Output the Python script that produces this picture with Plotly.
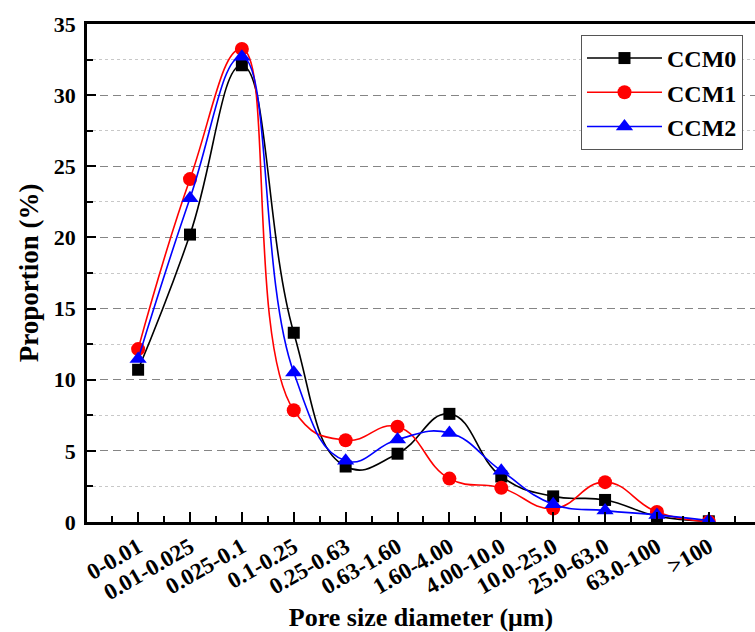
import plotly.graph_objects as go

categories = ["0-0.01", "0.01-0.025", "0.025-0.1", "0.1-0.25", "0.25-0.63", "0.63-1.60",
              "1.60-4.00", "4.00-10.0", "10.0-25.0", "25.0-63.0", "63.0-100", ">100"]
ccm0 = [10.7, 20.2, 32.1, 13.3, 3.9, 4.8, 7.6, 3.2, 1.8, 1.55, 0.42, 0.05]
ccm1 = [12.15, 24.1, 33.25, 7.85, 5.75, 6.7, 3.05, 2.4, 0.95, 2.8, 0.7, 0.02]
ccm2 = [11.45, 22.75, 32.7, 10.5, 4.3, 5.8, 6.25, 3.6, 1.25, 0.8, 0.5, 0.1]
y_ticks = [0, 5, 10, 15, 20, 25, 30, 35]

xs = list(range(len(categories)))
font_family = "Liberation Serif"

fig = go.Figure()
series = [
    ("CCM0", ccm0, "black", "square", 12),
    ("CCM1", ccm1, "red", "circle", 14),
    ("CCM2", ccm2, "blue", "triangle-up", 15),
]
for name, vals, col, sym, sz in series:
    fig.add_trace(go.Scatter(
        x=xs, y=vals, name=name, mode="lines+markers",
        line=dict(color=col, width=1.6, shape="spline", smoothing=1.3),
        marker=dict(color=col, symbol=sym, size=sz, line=dict(width=0)),
    ))

fig.update_layout(
    width=755, height=632,
    margin=dict(l=87, r=0, t=24, b=110),
    paper_bgcolor="white", plot_bgcolor="white",
    font=dict(family=font_family, color="black"),
    showlegend=True,
    legend=dict(
        x=0.7395, y=0.978, xanchor="left", yanchor="top",
        bgcolor="white", bordercolor="#555555", borderwidth=1,
        font=dict(family=font_family, size=24, color="black", weight="bold"),
        itemwidth=75, tracegroupgap=0,
    ),
    xaxis=dict(
        range=[-0.985, 11.89],
        tickmode="array", tickvals=xs, ticktext=categories,
        tickangle=-30,
        tickfont=dict(family=font_family, size=23, color="black", weight="bold"),
        ticks="inside", ticklen=10, tickwidth=2, tickcolor="black",
        showline=True, linecolor="black", linewidth=2.5, mirror=True,
        showgrid=False, zeroline=False,
        minor=dict(tickmode="linear", tick0=-0.5, dtick=1, ticks="inside", ticklen=6,
                   tickwidth=1.5, tickcolor="black", showgrid=False),
        title=dict(text="Pore size diameter (μm)", standoff=6,
                   font=dict(family=font_family, size=26, color="black", weight="bold")),
    ),
    yaxis=dict(
        range=[0, 35],
        tickmode="array", tickvals=y_ticks,
        tickfont=dict(family=font_family, size=22, color="black", weight="bold"),
        ticklabelstandoff=4,
        ticks="inside", ticklen=9, tickwidth=2, tickcolor="black",
        showline=True, linecolor="black", linewidth=2.5, mirror=False,
        showgrid=True, gridcolor="#858585", gridwidth=1.2, griddash="8px,5px",
        zeroline=False,
        minor=dict(tickmode="linear", tick0=2.5, dtick=5, ticks="inside", ticklen=6,
                   tickwidth=1.5, tickcolor="black", showgrid=True,
                   gridcolor="#c8c8c8", gridwidth=1, griddash="3px,3px"),
        title=dict(text="Proportion (%)", standoff=8,
                   font=dict(family=font_family, size=27, color="black", weight="bold")),
    ),
)

fig.write_html("out.html")
